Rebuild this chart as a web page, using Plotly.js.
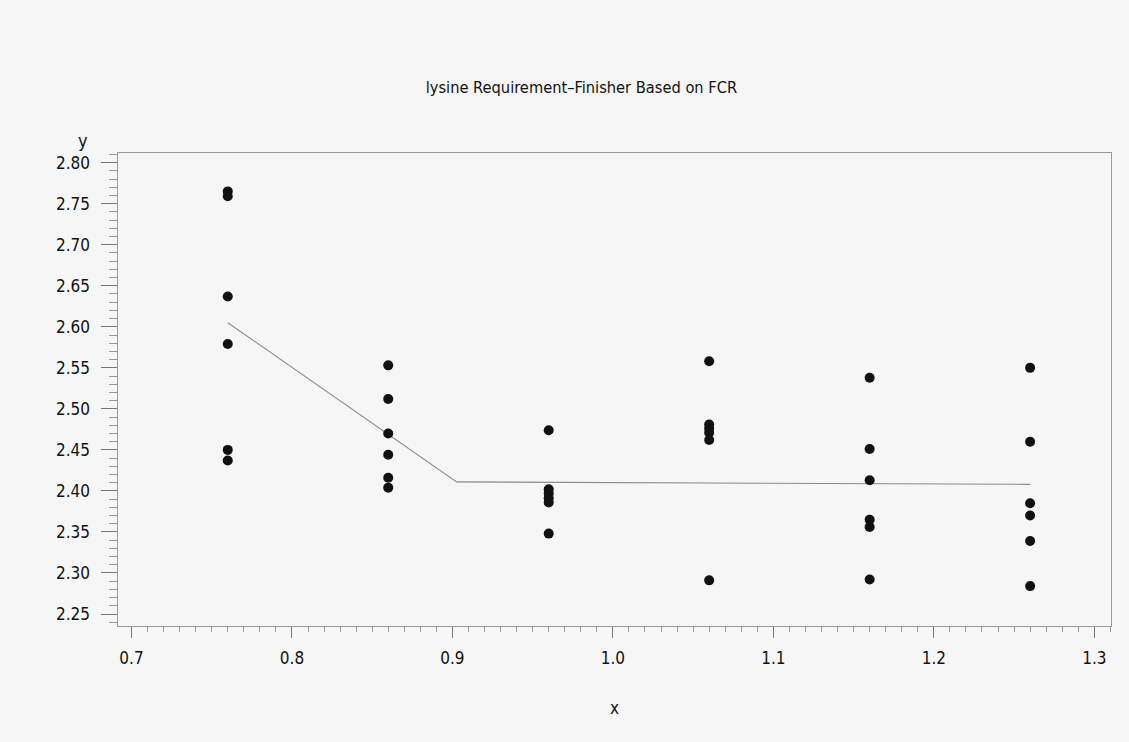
<!DOCTYPE html>
<html>
<head>
<meta charset="utf-8">
<script src="https://cdn.plot.ly/plotly-3.0.1.min.js"></script>
<style>html,body{margin:0;padding:0;background:#f6f6f6;}#chart{width:1129px;height:742px;}</style>
</head>
<body>
<div id="chart"></div>
<script>
// Data
const xLevels = [0.76, 0.86, 0.96, 1.06, 1.16, 1.26];
const yCol076 = [2.765, 2.759, 2.637, 2.579, 2.450, 2.437];
const yCol086 = [2.553, 2.512, 2.470, 2.444, 2.416, 2.404];
const yCol096 = [2.474, 2.402, 2.397, 2.391, 2.386, 2.348];
const yCol106 = [2.558, 2.481, 2.476, 2.471, 2.462, 2.291];
const yCol116 = [2.538, 2.451, 2.413, 2.365, 2.356, 2.292];
const yCol126 = [2.550, 2.460, 2.385, 2.370, 2.339, 2.284];
const fitX = [0.76, 0.9026, 1.26];
const fitY = [2.605, 2.411, 2.408];
const titleText = 'lysine Requirement\u2013Finisher Based on FCR';

const cols = [yCol076, yCol086, yCol096, yCol106, yCol116, yCol126];
const px = [], py = [];
cols.forEach((c, i) => c.forEach(v => { px.push(xLevels[i]); py.push(v); }));

const FONT = '"DejaVu Sans Condensed", "Liberation Sans Narrow", "Liberation Sans", Arial, sans-serif';
const data = [
  {x: fitX, y: fitY, type: 'scatter', mode: 'lines',
   line: {color: '#8a8a8a', width: 1.1}, hoverinfo: 'skip'},
  {x: px, y: py, type: 'scatter', mode: 'markers',
   marker: {color: '#111111', size: 10, symbol: 'circle'}}
];
const layout = {
  width: 1129, height: 742,
  paper_bgcolor: '#f6f6f6', plot_bgcolor: '#f6f6f6',
  showlegend: false,
  margin: {l: 118, r: 18, t: 153, b: 116},
  font: {family: FONT, color: '#111', size: 17},
  title: {text: titleText, x: 0.515, xanchor: 'center', y: 0.882, yanchor: 'middle',
          font: {family: FONT, size: 16.3, color: '#111'}},
  xaxis: {
    range: [0.6916, 1.3104], tick0: 0.7, dtick: 0.1, tickformat: '.1f',
    ticks: 'outside', ticklen: 11, tickwidth: 1, tickcolor: '#777',
    showline: true, linecolor: '#999', linewidth: 1, mirror: true,
    showgrid: false, zeroline: false,
    tickfont: {family: FONT, size: 17, color: '#111'},
    ticklabelstandoff: 6,
    minor: {dtick: 0.01, tick0: 0.7, ticks: 'outside', ticklen: 5, tickcolor: '#999', showgrid: false},
    title: {text: 'x', font: {family: FONT, size: 17, color: '#111'}, standoff: 34}
  },
  yaxis: {
    range: [2.2354, 2.8118], tick0: 2.25, dtick: 0.05, tickformat: '.2f',
    ticksuffix: '\u2002',
    ticks: 'outside', ticklen: 16, tickwidth: 1, tickcolor: '#777',
    showline: true, linecolor: '#999', linewidth: 1, mirror: true,
    showgrid: false, zeroline: false,
    tickfont: {family: FONT, size: 17, color: '#111'},
    minor: {dtick: 0.01, tick0: 2.25, ticks: 'outside', ticklen: 8, tickcolor: '#999', showgrid: false}
  },
  annotations: [
    {text: 'y', xref: 'paper', yref: 'paper', x: -0.035, y: 1.0, xanchor: 'center', yanchor: 'bottom',
     showarrow: false, font: {family: FONT, size: 18, color: '#111'}}
  ]
};
Plotly.newPlot('chart', data, layout, {displayModeBar: false, staticPlot: true});
</script>
</body>
</html>
